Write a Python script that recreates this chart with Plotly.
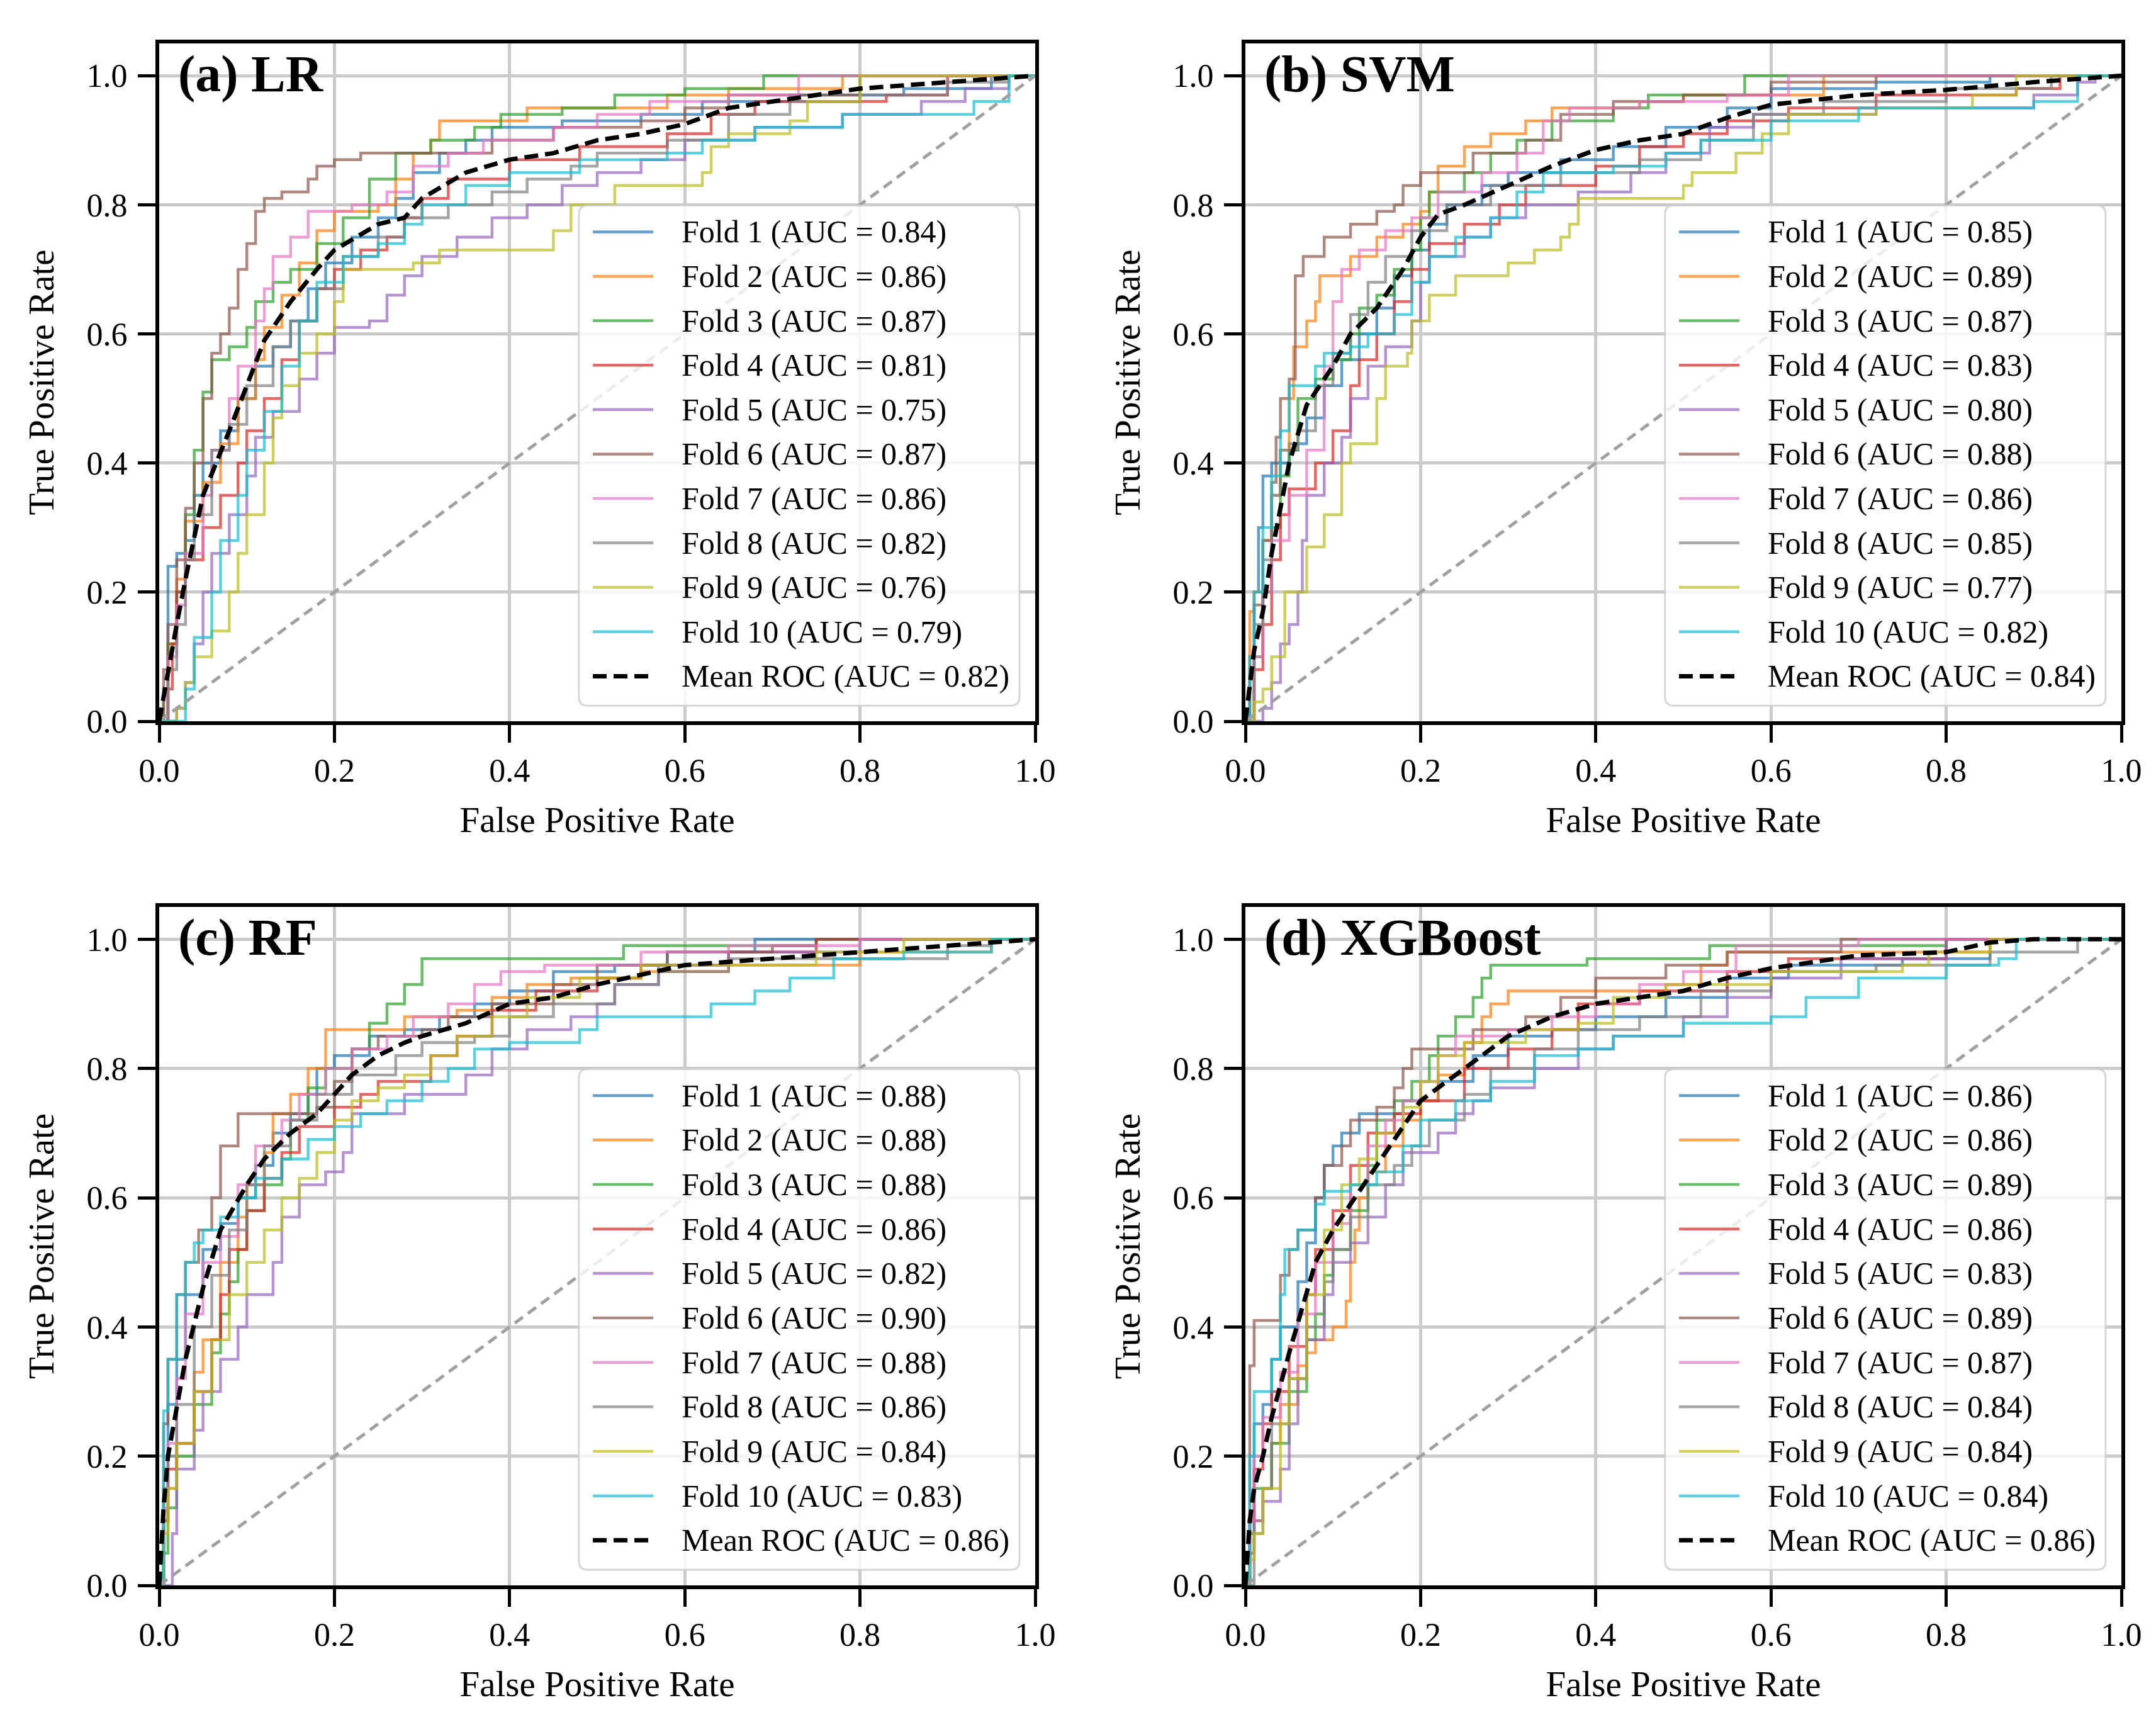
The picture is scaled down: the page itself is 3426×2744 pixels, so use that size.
import plotly.graph_objects as go

# ---- data ----
fold_colors = ['#1f77b4', '#ff7f0e', '#2ca02c', '#d62728', '#9467bd',
               '#8c564b', '#e377c2', '#7f7f7f', '#bcbd22', '#17becf']
panel_titles = ['(a) LR', '(b) SVM', '(c) RF', '(d) XGBoost']

lr_auc = [0.84, 0.86, 0.87, 0.81, 0.75, 0.87, 0.86, 0.82, 0.76, 0.79]
lr_mean_auc = 0.82
svm_auc = [0.85, 0.89, 0.87, 0.83, 0.80, 0.88, 0.86, 0.85, 0.77, 0.82]
svm_mean_auc = 0.84
rf_auc = [0.88, 0.88, 0.88, 0.86, 0.82, 0.90, 0.88, 0.86, 0.84, 0.83]
rf_mean_auc = 0.86
xgb_auc = [0.86, 0.86, 0.89, 0.86, 0.83, 0.89, 0.87, 0.84, 0.84, 0.84]
xgb_mean_auc = 0.86

# fold ROC corner points (fpr, tpr)
lr_folds = [
    [(0, 0), (0.01, 0.24), (0.02, 0.26), (0.03, 0.28), (0.04, 0.35), (0.05, 0.40), (0.07, 0.45), (0.09, 0.50),
     (0.11, 0.55), (0.13, 0.58), (0.15, 0.62), (0.17, 0.67), (0.19, 0.71), (0.22, 0.75), (0.25, 0.78), (0.27, 0.81),
     (0.29, 0.85), (0.32, 0.88), (0.35, 0.90), (0.38, 0.92), (0.46, 0.93), (0.55, 0.94), (0.62, 0.96), (0.72, 0.97),
     (0.85, 0.98), (0.95, 1.0), (1, 1)],
    [(0, 0), (0.01, 0.12), (0.02, 0.22), (0.03, 0.31), (0.05, 0.37), (0.07, 0.43), (0.09, 0.50), (0.11, 0.56),
     (0.12, 0.61), (0.14, 0.66), (0.16, 0.71), (0.18, 0.76), (0.20, 0.79), (0.25, 0.80), (0.27, 0.84), (0.29, 0.88),
     (0.31, 0.90), (0.32, 0.93), (0.36, 0.93), (0.42, 0.95), (0.58, 0.97), (0.65, 0.98), (0.78, 1.0), (1, 1)],
    [(0, 0), (0.005, 0.05), (0.01, 0.12), (0.02, 0.20), (0.03, 0.32), (0.04, 0.42), (0.05, 0.51), (0.06, 0.56),
     (0.08, 0.58), (0.10, 0.61), (0.11, 0.65), (0.13, 0.68), (0.15, 0.70), (0.18, 0.74), (0.21, 0.78), (0.24, 0.84),
     (0.27, 0.88), (0.31, 0.90), (0.36, 0.92), (0.39, 0.94), (0.46, 0.95), (0.52, 0.97), (0.60, 0.98), (0.69, 1.0),
     (1, 1)],
    [(0, 0), (0.01, 0.05), (0.015, 0.12), (0.02, 0.20), (0.03, 0.25), (0.05, 0.30), (0.07, 0.35), (0.09, 0.40),
     (0.10, 0.45), (0.12, 0.50), (0.14, 0.56), (0.16, 0.62), (0.18, 0.67), (0.20, 0.70), (0.23, 0.73), (0.26, 0.75),
     (0.28, 0.78), (0.30, 0.81), (0.33, 0.84), (0.40, 0.87), (0.48, 0.89), (0.58, 0.91), (0.63, 0.94), (0.68, 0.96),
     (0.83, 0.97), (0.90, 1.0), (1, 1)],
    [(0, 0), (0.02, 0.02), (0.03, 0.06), (0.04, 0.12), (0.05, 0.20), (0.06, 0.26), (0.08, 0.32), (0.10, 0.38),
     (0.11, 0.44), (0.13, 0.48), (0.16, 0.53), (0.18, 0.57), (0.20, 0.61), (0.24, 0.62), (0.26, 0.66), (0.28, 0.69),
     (0.30, 0.72), (0.34, 0.75), (0.38, 0.78), (0.42, 0.80), (0.46, 0.83), (0.50, 0.85), (0.55, 0.87), (0.60, 0.90),
     (0.68, 0.92), (0.78, 0.94), (0.87, 0.96), (0.92, 0.98), (0.97, 1.0), (1, 1)],
    [(0, 0), (0.005, 0.08), (0.01, 0.15), (0.02, 0.25), (0.03, 0.33), (0.04, 0.40), (0.05, 0.50), (0.06, 0.57),
     (0.07, 0.60), (0.08, 0.64), (0.09, 0.70), (0.10, 0.74), (0.11, 0.79), (0.12, 0.81), (0.14, 0.82), (0.17, 0.84),
     (0.18, 0.86), (0.20, 0.87), (0.23, 0.88), (0.33, 0.88), (0.38, 0.90), (0.45, 0.92), (0.55, 0.93), (0.60, 0.95),
     (0.65, 0.97), (0.80, 1.0), (1, 1)],
    [(0, 0), (0.01, 0.10), (0.02, 0.18), (0.03, 0.26), (0.05, 0.35), (0.06, 0.42), (0.08, 0.50), (0.09, 0.55),
     (0.11, 0.62), (0.12, 0.67), (0.13, 0.72), (0.15, 0.75), (0.17, 0.79), (0.22, 0.80), (0.26, 0.82), (0.29, 0.86),
     (0.33, 0.88), (0.37, 0.90), (0.45, 0.92), (0.50, 0.94), (0.56, 0.96), (0.65, 0.97), (0.73, 1.0), (1, 1)],
    [(0, 0), (0.01, 0.08), (0.02, 0.15), (0.03, 0.25), (0.04, 0.32), (0.06, 0.42), (0.08, 0.46), (0.10, 0.52),
     (0.13, 0.58), (0.15, 0.62), (0.18, 0.67), (0.21, 0.72), (0.25, 0.75), (0.28, 0.78), (0.33, 0.80), (0.38, 0.82),
     (0.42, 0.84), (0.47, 0.86), (0.50, 0.88), (0.58, 0.90), (0.65, 0.94), (0.72, 0.96), (0.80, 0.97), (0.90, 0.99),
     (0.97, 1.0), (1, 1)],
    [(0, 0), (0.02, 0.02), (0.03, 0.06), (0.04, 0.10), (0.06, 0.14), (0.08, 0.20), (0.09, 0.26), (0.10, 0.32),
     (0.12, 0.40), (0.13, 0.47), (0.14, 0.52), (0.16, 0.57), (0.18, 0.60), (0.20, 0.65), (0.21, 0.70), (0.29, 0.71),
     (0.32, 0.73), (0.44, 0.73), (0.45, 0.76), (0.47, 0.80), (0.52, 0.83), (0.62, 0.85), (0.63, 0.89), (0.65, 0.91),
     (0.72, 0.93), (0.74, 0.96), (0.80, 1.0), (1, 1)],
    [(0, 0), (0.02, 0.0), (0.03, 0.05), (0.04, 0.13), (0.06, 0.20), (0.07, 0.28), (0.09, 0.35), (0.10, 0.42),
     (0.12, 0.48), (0.14, 0.55), (0.16, 0.62), (0.18, 0.68), (0.21, 0.72), (0.25, 0.74), (0.28, 0.77), (0.30, 0.80),
     (0.35, 0.83), (0.40, 0.85), (0.48, 0.87), (0.58, 0.88), (0.62, 0.90), (0.68, 0.92), (0.78, 0.94), (0.93, 0.96),
     (0.97, 1.0), (1, 1)],
]
lr_mean_fpr = [0, 0.01, 0.02, 0.03, 0.05, 0.08, 0.10, 0.12, 0.15, 0.18, 0.20, 0.25, 0.28, 0.30, 0.35, 0.40,
               0.45, 0.50, 0.55, 0.60, 0.65, 0.70, 0.80, 0.90, 1.0]
lr_mean_tpr = [0, 0.08, 0.15, 0.22, 0.35, 0.45, 0.52, 0.59, 0.65, 0.70, 0.73, 0.77, 0.78, 0.81, 0.85, 0.87,
               0.88, 0.90, 0.91, 0.925, 0.95, 0.96, 0.98, 0.99, 1.0]

svm_folds = [
    [(0, 0), (0.005, 0.10), (0.01, 0.20), (0.015, 0.30), (0.02, 0.38), (0.03, 0.40), (0.05, 0.43), (0.07, 0.47),
     (0.09, 0.52), (0.11, 0.56), (0.13, 0.60), (0.15, 0.64), (0.17, 0.69), (0.19, 0.73), (0.21, 0.77), (0.23, 0.80),
     (0.27, 0.83), (0.30, 0.85), (0.36, 0.87), (0.42, 0.89), (0.48, 0.92), (0.55, 0.95), (0.60, 0.98), (0.72, 0.99),
     (0.85, 1.0), (1, 1)],
    [(0, 0), (0.005, 0.17), (0.01, 0.20), (0.02, 0.28), (0.03, 0.35), (0.04, 0.42), (0.05, 0.50), (0.055, 0.58),
     (0.07, 0.62), (0.08, 0.65), (0.085, 0.69), (0.12, 0.72), (0.15, 0.75), (0.18, 0.77), (0.20, 0.79), (0.21, 0.82),
     (0.22, 0.86), (0.25, 0.89), (0.28, 0.91), (0.32, 0.93), (0.35, 0.95), (0.45, 0.96), (0.50, 0.97), (0.66, 1.0),
     (1, 1)],
    [(0, 0), (0.01, 0.10), (0.02, 0.20), (0.03, 0.30), (0.04, 0.38), (0.05, 0.42), (0.06, 0.50), (0.08, 0.53),
     (0.10, 0.56), (0.12, 0.60), (0.13, 0.64), (0.15, 0.66), (0.17, 0.70), (0.19, 0.73), (0.20, 0.78), (0.21, 0.82),
     (0.25, 0.85), (0.28, 0.88), (0.31, 0.90), (0.35, 0.93), (0.42, 0.95), (0.46, 0.97), (0.55, 0.97), (0.57, 1.0),
     (1, 1)],
    [(0, 0), (0.01, 0.08), (0.02, 0.15), (0.03, 0.25), (0.04, 0.32), (0.05, 0.36), (0.08, 0.40), (0.10, 0.45),
     (0.12, 0.52), (0.13, 0.56), (0.15, 0.60), (0.17, 0.65), (0.19, 0.70), (0.21, 0.74), (0.25, 0.77), (0.29, 0.80),
     (0.32, 0.83), (0.40, 0.86), (0.45, 0.89), (0.50, 0.91), (0.55, 0.93), (0.62, 0.95), (0.72, 0.97), (0.88, 0.98),
     (0.93, 1.0), (1, 1)],
    [(0, 0), (0.02, 0.02), (0.03, 0.06), (0.04, 0.12), (0.05, 0.15), (0.06, 0.20), (0.065, 0.28), (0.07, 0.35),
     (0.09, 0.40), (0.11, 0.44), (0.12, 0.50), (0.14, 0.55), (0.16, 0.58), (0.19, 0.62), (0.20, 0.68), (0.21, 0.72),
     (0.25, 0.75), (0.28, 0.78), (0.32, 0.80), (0.38, 0.82), (0.44, 0.85), (0.48, 0.88), (0.53, 0.92), (0.58, 0.94),
     (0.72, 0.95), (0.90, 0.97), (0.95, 0.99), (0.97, 1.0), (1, 1)],
    [(0, 0), (0.005, 0.08), (0.01, 0.18), (0.02, 0.28), (0.03, 0.37), (0.035, 0.44), (0.04, 0.50), (0.05, 0.53),
     (0.057, 0.69), (0.066, 0.72), (0.09, 0.75), (0.12, 0.77), (0.15, 0.79), (0.17, 0.80), (0.18, 0.83), (0.20, 0.85),
     (0.26, 0.88), (0.32, 0.90), (0.36, 0.94), (0.42, 0.96), (0.50, 0.97), (0.60, 0.99), (0.72, 1.0), (1, 1)],
    [(0, 0), (0.01, 0.10), (0.02, 0.20), (0.03, 0.28), (0.05, 0.35), (0.07, 0.42), (0.09, 0.55), (0.10, 0.65),
     (0.11, 0.70), (0.13, 0.73), (0.16, 0.76), (0.19, 0.78), (0.22, 0.82), (0.27, 0.85), (0.31, 0.88), (0.34, 0.93),
     (0.37, 0.95), (0.45, 0.96), (0.55, 0.97), (0.62, 1.0), (1, 1)],
    [(0, 0), (0.01, 0.15), (0.02, 0.25), (0.03, 0.35), (0.04, 0.42), (0.06, 0.45), (0.08, 0.52), (0.10, 0.57),
     (0.12, 0.63), (0.14, 0.68), (0.16, 0.72), (0.19, 0.76), (0.23, 0.80), (0.28, 0.83), (0.36, 0.85), (0.45, 0.87),
     (0.52, 0.90), (0.58, 0.94), (0.66, 0.96), (0.80, 0.98), (0.92, 1.0), (1, 1)],
    [(0, 0), (0.01, 0.03), (0.02, 0.05), (0.03, 0.10), (0.045, 0.20), (0.07, 0.27), (0.09, 0.32), (0.11, 0.40),
     (0.12, 0.43), (0.145, 0.43), (0.15, 0.50), (0.16, 0.55), (0.185, 0.57), (0.19, 0.62), (0.21, 0.66), (0.24, 0.69),
     (0.29, 0.69), (0.30, 0.71), (0.33, 0.73), (0.36, 0.75), (0.37, 0.77), (0.38, 0.81), (0.48, 0.81), (0.50, 0.83),
     (0.51, 0.85), (0.56, 0.88), (0.59, 0.91), (0.62, 0.94), (0.72, 0.95), (0.83, 0.97), (0.88, 1.0), (1, 1)],
    [(0, 0), (0.005, 0.10), (0.01, 0.20), (0.02, 0.30), (0.03, 0.38), (0.04, 0.45), (0.05, 0.52), (0.08, 0.55),
     (0.09, 0.57), (0.12, 0.58), (0.14, 0.60), (0.17, 0.63), (0.19, 0.68), (0.21, 0.72), (0.24, 0.75), (0.28, 0.78),
     (0.31, 0.82), (0.34, 0.85), (0.42, 0.86), (0.48, 0.88), (0.52, 0.90), (0.60, 0.93), (0.70, 0.95), (0.90, 0.96),
     (0.95, 1.0), (1, 1)],
]
svm_mean_fpr = [0, 0.01, 0.02, 0.03, 0.05, 0.07, 0.10, 0.12, 0.15, 0.18, 0.20, 0.22, 0.25, 0.30, 0.35, 0.40,
                0.45, 0.50, 0.55, 0.60, 0.70, 0.80, 0.90, 1.0]
svm_mean_tpr = [0, 0.11, 0.17, 0.26, 0.40, 0.49, 0.55, 0.60, 0.64, 0.70, 0.75, 0.785, 0.80, 0.83, 0.86, 0.885,
                0.90, 0.91, 0.935, 0.955, 0.97, 0.978, 0.99, 1.0]

rf_folds = [
    [(0, 0), (0.005, 0.15), (0.01, 0.28), (0.02, 0.35), (0.03, 0.45), (0.05, 0.52), (0.07, 0.56), (0.09, 0.60),
     (0.11, 0.65), (0.13, 0.70), (0.15, 0.73), (0.17, 0.76), (0.18, 0.80), (0.20, 0.82), (0.24, 0.85), (0.28, 0.86),
     (0.32, 0.88), (0.36, 0.90), (0.40, 0.92), (0.45, 0.95), (0.52, 0.96), (0.58, 0.98), (0.68, 1.0), (1, 1)],
    [(0, 0), (0.005, 0.10), (0.01, 0.15), (0.02, 0.22), (0.04, 0.33), (0.05, 0.38), (0.07, 0.50), (0.09, 0.57),
     (0.10, 0.62), (0.12, 0.67), (0.13, 0.73), (0.15, 0.76), (0.17, 0.80), (0.19, 0.86), (0.26, 0.86), (0.28, 0.88),
     (0.34, 0.89), (0.38, 0.91), (0.42, 0.93), (0.47, 0.94), (0.55, 0.95), (0.65, 0.96), (0.80, 0.98), (0.95, 1.0),
     (1, 1)],
    [(0, 0), (0.005, 0.05), (0.01, 0.12), (0.02, 0.20), (0.04, 0.28), (0.06, 0.36), (0.07, 0.42), (0.08, 0.47),
     (0.09, 0.52), (0.10, 0.58), (0.12, 0.62), (0.14, 0.66), (0.15, 0.72), (0.17, 0.77), (0.19, 0.80), (0.22, 0.83),
     (0.24, 0.87), (0.26, 0.90), (0.28, 0.93), (0.30, 0.97), (0.52, 0.97), (0.53, 0.99), (0.75, 1.0), (1, 1)],
    [(0, 0), (0.005, 0.10), (0.01, 0.18), (0.02, 0.22), (0.04, 0.30), (0.06, 0.38), (0.07, 0.45), (0.08, 0.52),
     (0.10, 0.58), (0.12, 0.63), (0.14, 0.67), (0.16, 0.71), (0.20, 0.74), (0.23, 0.76), (0.25, 0.78), (0.28, 0.78),
     (0.31, 0.82), (0.34, 0.85), (0.38, 0.89), (0.43, 0.92), (0.50, 0.94), (0.55, 0.96), (0.65, 0.98), (0.75, 1.0),
     (1, 1)],
    [(0, 0), (0.01, 0.0), (0.015, 0.08), (0.02, 0.18), (0.04, 0.24), (0.05, 0.30), (0.07, 0.35), (0.09, 0.40),
     (0.10, 0.45), (0.13, 0.50), (0.14, 0.57), (0.16, 0.62), (0.19, 0.64), (0.21, 0.67), (0.22, 0.73), (0.28, 0.76),
     (0.35, 0.79), (0.38, 0.83), (0.42, 0.86), (0.47, 0.88), (0.50, 0.90), (0.52, 0.93), (0.57, 0.96), (0.65, 0.98),
     (0.80, 1.0), (1, 1)],
    [(0, 0), (0.005, 0.25), (0.01, 0.35), (0.02, 0.45), (0.03, 0.50), (0.045, 0.55), (0.06, 0.60), (0.07, 0.68),
     (0.09, 0.73), (0.18, 0.74), (0.20, 0.78), (0.22, 0.83), (0.25, 0.85), (0.30, 0.86), (0.33, 0.88), (0.38, 0.90),
     (0.45, 0.93), (0.50, 0.96), (0.58, 0.98), (0.70, 0.99), (0.75, 1.0), (1, 1)],
    [(0, 0), (0.005, 0.12), (0.01, 0.22), (0.02, 0.32), (0.03, 0.42), (0.05, 0.50), (0.07, 0.54), (0.09, 0.62),
     (0.11, 0.68), (0.14, 0.72), (0.16, 0.76), (0.19, 0.80), (0.22, 0.83), (0.26, 0.85), (0.29, 0.88), (0.33, 0.90),
     (0.36, 0.93), (0.39, 0.95), (0.44, 0.96), (0.55, 0.98), (0.65, 0.99), (0.80, 1.0), (1, 1)],
    [(0, 0), (0.005, 0.10), (0.01, 0.20), (0.02, 0.28), (0.04, 0.40), (0.06, 0.48), (0.08, 0.55), (0.10, 0.62),
     (0.12, 0.68), (0.15, 0.72), (0.18, 0.76), (0.22, 0.79), (0.27, 0.82), (0.30, 0.84), (0.36, 0.85), (0.40, 0.88),
     (0.45, 0.90), (0.52, 0.93), (0.57, 0.95), (0.65, 0.97), (0.80, 0.97), (0.90, 0.99), (0.95, 1.0), (1, 1)],
    [(0, 0), (0.005, 0.08), (0.01, 0.15), (0.02, 0.22), (0.04, 0.30), (0.06, 0.38), (0.08, 0.45), (0.10, 0.50),
     (0.12, 0.55), (0.14, 0.60), (0.16, 0.63), (0.18, 0.67), (0.20, 0.72), (0.22, 0.75), (0.25, 0.77), (0.28, 0.79),
     (0.31, 0.82), (0.34, 0.85), (0.38, 0.88), (0.42, 0.91), (0.48, 0.94), (0.55, 0.96), (0.70, 0.96), (0.75, 0.98),
     (0.85, 1.0), (1, 1)],
    [(0, 0), (0.005, 0.27), (0.01, 0.35), (0.02, 0.45), (0.03, 0.50), (0.04, 0.53), (0.05, 0.55), (0.07, 0.57),
     (0.09, 0.60), (0.11, 0.63), (0.14, 0.66), (0.17, 0.69), (0.20, 0.71), (0.23, 0.73), (0.26, 0.75), (0.30, 0.78),
     (0.33, 0.80), (0.36, 0.83), (0.40, 0.84), (0.48, 0.86), (0.50, 0.88), (0.60, 0.88), (0.63, 0.90), (0.68, 0.92),
     (0.72, 0.94), (0.77, 0.97), (0.85, 0.98), (0.95, 1.0), (1, 1)],
]
rf_mean_fpr = [0, 0.005, 0.01, 0.02, 0.03, 0.05, 0.07, 0.10, 0.12, 0.15, 0.18, 0.20, 0.22, 0.25, 0.28, 0.30,
               0.35, 0.40, 0.45, 0.50, 0.60, 0.70, 0.80, 0.90, 1.0]
rf_mean_tpr = [0, 0.12, 0.20, 0.28, 0.35, 0.46, 0.55, 0.62, 0.66, 0.70, 0.73, 0.76, 0.79, 0.82, 0.84, 0.85,
               0.87, 0.90, 0.91, 0.93, 0.96, 0.97, 0.98, 0.99, 1.0]

xgb_folds = [
    [(0, 0), (0.005, 0.10), (0.01, 0.25), (0.02, 0.28), (0.03, 0.35), (0.04, 0.40), (0.06, 0.47), (0.07, 0.53),
     (0.08, 0.60), (0.09, 0.65), (0.10, 0.68), (0.11, 0.70), (0.13, 0.73), (0.16, 0.73), (0.18, 0.75), (0.22, 0.78),
     (0.26, 0.82), (0.30, 0.85), (0.35, 0.86), (0.40, 0.88), (0.48, 0.91), (0.55, 0.94), (0.62, 0.96), (0.75, 0.97),
     (0.85, 1.0), (1, 1)],
    [(0, 0), (0.005, 0.05), (0.01, 0.10), (0.02, 0.15), (0.03, 0.22), (0.04, 0.28), (0.06, 0.34), (0.07, 0.36),
     (0.08, 0.38), (0.10, 0.40), (0.115, 0.44), (0.12, 0.50), (0.125, 0.55), (0.13, 0.60), (0.14, 0.64), (0.16, 0.68),
     (0.18, 0.72), (0.20, 0.75), (0.22, 0.79), (0.25, 0.84), (0.27, 0.88), (0.28, 0.90), (0.30, 0.92), (0.48, 0.93),
     (0.52, 0.96), (0.55, 0.98), (0.60, 0.98), (0.85, 1.0), (1, 1)],
    [(0, 0), (0.005, 0.08), (0.01, 0.15), (0.03, 0.22), (0.05, 0.30), (0.07, 0.38), (0.08, 0.42), (0.09, 0.48),
     (0.10, 0.52), (0.12, 0.58), (0.14, 0.65), (0.15, 0.72), (0.17, 0.75), (0.19, 0.78), (0.21, 0.82), (0.22, 0.85),
     (0.24, 0.88), (0.26, 0.91), (0.27, 0.94), (0.28, 0.96), (0.39, 0.97), (0.53, 0.99), (0.80, 1.0), (1, 1)],
    [(0, 0), (0.005, 0.10), (0.01, 0.18), (0.02, 0.25), (0.03, 0.30), (0.05, 0.37), (0.07, 0.45), (0.08, 0.52),
     (0.10, 0.58), (0.12, 0.65), (0.14, 0.70), (0.17, 0.73), (0.20, 0.75), (0.25, 0.80), (0.30, 0.83), (0.35, 0.86),
     (0.38, 0.90), (0.45, 0.92), (0.55, 0.95), (0.62, 0.97), (0.80, 1.0), (1, 1)],
    [(0, 0), (0.005, 0.05), (0.01, 0.10), (0.02, 0.13), (0.04, 0.18), (0.05, 0.25), (0.06, 0.32), (0.07, 0.38),
     (0.09, 0.45), (0.10, 0.50), (0.12, 0.53), (0.14, 0.57), (0.16, 0.62), (0.18, 0.67), (0.22, 0.70), (0.24, 0.73),
     (0.26, 0.75), (0.28, 0.77), (0.33, 0.80), (0.38, 0.83), (0.42, 0.85), (0.50, 0.88), (0.55, 0.91), (0.60, 0.94),
     (0.68, 0.97), (0.80, 1.0), (1, 1)],
    [(0, 0), (0.005, 0.34), (0.01, 0.41), (0.03, 0.41), (0.04, 0.48), (0.05, 0.52), (0.06, 0.55), (0.08, 0.60),
     (0.09, 0.65), (0.11, 0.68), (0.12, 0.72), (0.15, 0.74), (0.17, 0.77), (0.18, 0.80), (0.19, 0.83), (0.26, 0.86),
     (0.32, 0.88), (0.36, 0.91), (0.40, 0.94), (0.48, 0.96), (0.55, 0.98), (0.68, 1.0), (1, 1)],
    [(0, 0), (0.005, 0.10), (0.01, 0.20), (0.02, 0.26), (0.04, 0.33), (0.06, 0.42), (0.08, 0.50), (0.10, 0.56),
     (0.12, 0.62), (0.14, 0.68), (0.16, 0.72), (0.18, 0.75), (0.20, 0.78), (0.22, 0.82), (0.24, 0.85), (0.30, 0.86),
     (0.35, 0.88), (0.40, 0.90), (0.45, 0.93), (0.50, 0.95), (0.56, 0.99), (0.70, 1.0), (1, 1)],
    [(0, 0), (0.01, 0.08), (0.02, 0.15), (0.03, 0.25), (0.05, 0.32), (0.07, 0.40), (0.09, 0.47), (0.10, 0.52),
     (0.12, 0.57), (0.14, 0.62), (0.17, 0.65), (0.19, 0.68), (0.21, 0.72), (0.25, 0.76), (0.28, 0.80), (0.33, 0.83),
     (0.38, 0.86), (0.45, 0.88), (0.52, 0.92), (0.60, 0.95), (0.72, 0.96), (0.85, 0.98), (0.95, 1.0), (1, 1)],
    [(0, 0), (0.005, 0.04), (0.01, 0.08), (0.02, 0.15), (0.04, 0.25), (0.05, 0.32), (0.07, 0.45), (0.09, 0.55),
     (0.11, 0.62), (0.13, 0.66), (0.15, 0.70), (0.18, 0.74), (0.20, 0.78), (0.22, 0.82), (0.25, 0.84), (0.32, 0.86),
     (0.38, 0.87), (0.42, 0.91), (0.48, 0.93), (0.60, 0.95), (0.75, 0.96), (0.78, 0.98), (0.85, 1.0), (1, 1)],
    [(0, 0), (0.005, 0.20), (0.01, 0.30), (0.03, 0.35), (0.04, 0.45), (0.045, 0.52), (0.06, 0.55), (0.08, 0.59),
     (0.09, 0.61), (0.12, 0.62), (0.15, 0.64), (0.18, 0.68), (0.20, 0.72), (0.24, 0.75), (0.28, 0.78), (0.33, 0.82),
     (0.38, 0.83), (0.42, 0.85), (0.50, 0.87), (0.60, 0.88), (0.64, 0.91), (0.70, 0.94), (0.80, 0.96), (0.86, 0.97),
     (0.88, 1.0), (1, 1)],
]
xgb_mean_fpr = [0, 0.005, 0.01, 0.02, 0.03, 0.05, 0.08, 0.10, 0.12, 0.15, 0.18, 0.20, 0.25, 0.30, 0.35, 0.40,
                0.45, 0.50, 0.55, 0.60, 0.70, 0.80, 0.85, 0.90, 1.0]
xgb_mean_tpr = [0, 0.10, 0.15, 0.20, 0.26, 0.36, 0.50, 0.55, 0.59, 0.65, 0.71, 0.75, 0.80, 0.85, 0.88, 0.90,
                0.91, 0.92, 0.94, 0.955, 0.975, 0.98, 0.995, 1.0, 1.0]

chance_line = [0, 1]

# ---- figure ----
panels = [
    (lr_folds, lr_auc, lr_mean_fpr, lr_mean_tpr, lr_mean_auc),
    (svm_folds, svm_auc, svm_mean_fpr, svm_mean_tpr, svm_mean_auc),
    (rf_folds, rf_auc, rf_mean_fpr, rf_mean_tpr, rf_mean_auc),
    (xgb_folds, xgb_auc, xgb_mean_fpr, xgb_mean_tpr, xgb_mean_auc),
]

W, H = 3426, 2744
OFF = 8  # page body margin
col_dom = [[(253 - OFF) / W, (1645 - OFF) / W], [(1979 - OFF) / W, (3371 - OFF) / W]]
row_dom = [[1 - (1146 - OFF) / H, 1 - (69 - OFF) / H], [1 - (2519 - OFF) / H, 1 - (1441 - OFF) / H]]
AX_W, AX_H = 1392, 1078

FONT = 'Liberation Serif'
MEAN_DASH = '22px,11px'


def rgba(hex_color, a):
    h = hex_color.lstrip('#')
    r, g, b = int(h[0:2], 16), int(h[2:4], 16), int(h[4:6], 16)
    return f'rgba({r},{g},{b},{a})'


def rounded_box(x0, y0, x1, y1, rx, ry):
    return (f'M {x0 + rx},{y0} L {x1 - rx},{y0} Q {x1},{y0} {x1},{y0 + ry} '
            f'L {x1},{y1 - ry} Q {x1},{y1} {x1 - rx},{y1} L {x0 + rx},{y1} '
            f'Q {x0},{y1} {x0},{y1 - ry} L {x0},{y0 + ry} Q {x0},{y0} {x0 + rx},{y0} Z')


fig = go.Figure()
shapes = []
annotations = []
layout_axes = {}

for i, (folds, aucs, m_fpr, m_tpr, m_auc) in enumerate(panels):
    n = '' if i == 0 else str(i + 1)
    xa, ya = 'x' + n, 'y' + n

    for k, pts in enumerate(folds):
        fig.add_trace(go.Scatter(
            x=[p[0] for p in pts], y=[p[1] for p in pts],
            mode='lines', line=dict(color=fold_colors[k], width=4.5, shape='hv'),
            opacity=0.7, xaxis=xa, yaxis=ya, showlegend=False, hoverinfo='skip'))

    fig.add_trace(go.Scatter(
        x=chance_line, y=chance_line, mode='lines',
        line=dict(color='#a0a0a0', width=5, dash='16px,10px'),
        xaxis=xa, yaxis=ya, showlegend=False, hoverinfo='skip'))

    fig.add_trace(go.Scatter(
        x=m_fpr, y=m_tpr, mode='lines',
        line=dict(color='black', width=7, dash=MEAN_DASH),
        xaxis=xa, yaxis=ya, showlegend=False, hoverinfo='skip'))

    r, c = divmod(i, 2)
    common = dict(showline=True, linecolor='black', linewidth=6, mirror=True,
                  ticks='outside', ticklen=28, tickwidth=5, tickcolor='black',
                  showgrid=True, gridcolor='#cbcbcb', gridwidth=5,
                  zeroline=False, automargin=False,
                  tickfont=dict(family=FONT, size=52, color='black'),
                  tickvals=[0, 0.2, 0.4, 0.6, 0.8, 1.0], tickformat='.1f')
    layout_axes['xaxis' + n] = dict(
        common, domain=col_dom[c], anchor=ya, range=[0, 1],
        ticklabelstandoff=0,
        title=dict(text='False Positive Rate', standoff=32,
                   font=dict(family=FONT, size=57, color='black')))
    layout_axes['yaxis' + n] = dict(
        common, domain=row_dom[r], anchor=xa, range=[0, 1.05],
        ticklabelstandoff=6,
        title=dict(text='True Positive Rate', standoff=36,
                   font=dict(family=FONT, size=57, color='black')))

    xd, yd = xa + ' domain', ya + ' domain'

    # panel label
    annotations.append(dict(
        x=0.02, y=0.955, xref=xd, yref=yd, xanchor='left', yanchor='middle',
        text=f'<b>{panel_titles[i]}</b>', showarrow=False,
        font=dict(family=FONT, size=82, color='black')))

    # legend box
    shapes.append(dict(
        type='path', xref=xd, yref=yd, layer='above',
        path=rounded_box(0.479, 0.023, 0.982, 0.761, 14 / AX_W, 14 / AX_H),
        fillcolor='rgba(255,255,255,0.8)', line=dict(color='rgba(204,204,204,0.8)', width=3)))

    labels = [f'Fold {k + 1} (AUC = {a:.2f})' for k, a in enumerate(aucs)]
    labels.append(f'Mean ROC (AUC = {m_auc:.2f})')
    for j, lab in enumerate(labels):
        yy = 0.722 - j * 0.06555
        if j < len(aucs):
            ln = dict(color=rgba(fold_colors[j], 0.7), width=4.5)
        else:
            ln = dict(color='black', width=7, dash=MEAN_DASH)
        shapes.append(dict(type='line', xref=xd, yref=yd, layer='above',
                           x0=0.495, x1=0.564, y0=yy, y1=yy, line=ln))
        annotations.append(dict(
            x=0.595, y=yy, xref=xd, yref=yd, xanchor='left', yanchor='middle',
            text=lab, showarrow=False, font=dict(family=FONT, size=50, color='black')))

fig.update_layout(
    width=W, height=H,
    margin=dict(l=0, r=0, t=0, b=0),
    paper_bgcolor='white', plot_bgcolor='white',
    font=dict(family=FONT, color='black'),
    showlegend=False,
    shapes=shapes,
    annotations=annotations,
    **layout_axes,
)

fig.write_html("out.html")
